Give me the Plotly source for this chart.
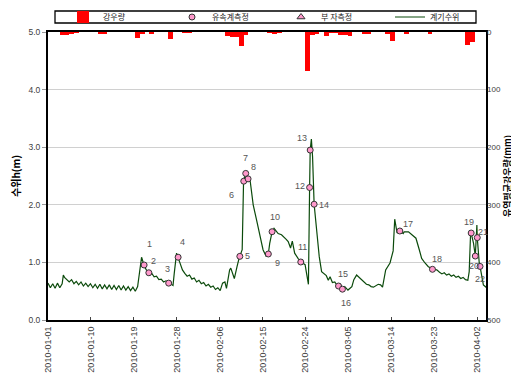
import plotly.graph_objects as go

YEAR = "2010"

# ---- data ----
level_times = [
    "01-01 00","01-01 12","01-02 00","01-02 12","01-03 00","01-03 12","01-04 00","01-04 06","01-04 12",
    "01-05 00","01-05 12","01-06 00","01-06 12","01-07 00","01-07 12","01-08 00","01-08 12","01-09 00",
    "01-09 12","01-10 00","01-10 12","01-11 00","01-11 12","01-12 00","01-12 12","01-13 00","01-13 12",
    "01-14 00","01-14 12","01-15 00","01-15 12","01-16 00","01-16 12","01-17 00","01-17 12","01-18 00",
    "01-18 12","01-19 00","01-19 12","01-20 00","01-20 12","01-20 20","01-21 06","01-21 12","01-22 00",
    "01-22 12","01-23 00","01-23 12","01-24 00","01-24 12","01-25 00","01-25 12","01-26 00","01-26 12",
    "01-27 00","01-27 12","01-27 18","01-28 06","01-28 12","01-29 00","01-29 12","01-30 00","01-30 12",
    "01-31 00","01-31 12","02-01 00","02-01 12","02-02 00","02-02 12","02-03 00","02-03 12","02-04 00",
    "02-04 12","02-05 00","02-05 12","02-06 00","02-06 12","02-07 00","02-07 12","02-07 20","02-08 12",
    "02-08 18","02-09 12","02-10 02","02-10 12","02-11 04","02-11 11","02-11 21","02-12 10","02-12 20",
    "02-13 12","02-14 05","02-14 22","02-15 14","02-16 05","02-16 17","02-17 00","02-17 12","02-17 22",
    "02-18 19","02-19 12","02-19 22","02-20 12","02-20 22","02-21 10","02-21 19","02-22 07","02-23 00",
    "02-23 14","02-24 12","02-25 00","02-25 05","02-25 11","02-25 14","02-25 20","02-26 02","02-26 10",
    "02-27 00","02-27 12","02-28 00","02-28 12","03-01 00","03-01 10","03-01 19","03-02 07","03-02 19",
    "03-03 05","03-03 14","03-04 00","03-04 10","03-04 22","03-05 14","03-06 10","03-06 20","03-07 10",
    "03-08 00","03-08 12","03-09 00","03-09 12","03-10 00","03-10 12","03-11 00","03-11 12","03-12 00",
    "03-12 12","03-12 22","03-13 14","03-14 12","03-15 04","03-15 12","03-16 00","03-16 14","03-17 07",
    "03-17 12","03-18 10","03-19 02","03-20 00","03-20 17","03-21 05","03-21 22","03-22 14","03-23 12",
    "03-24 10","03-25 00","03-25 12","03-26 00","03-26 12","03-27 00","03-27 12","03-28 00","03-28 12",
    "03-29 00","03-29 12","03-30 00","03-30 12","03-31 00","03-31 07","03-31 14","03-31 17","04-01 05",
    "04-01 14","04-01 22","04-02 00","04-02 10","04-02 14","04-03 07","04-04 00",
]
level_values = [
    0.64,0.56,0.63,0.55,0.64,0.56,0.63,0.78,0.74,
    0.69,0.66,0.70,0.63,0.67,0.61,0.66,0.59,0.64,
    0.58,0.63,0.56,0.62,0.55,0.62,0.54,0.61,0.54,
    0.61,0.53,0.60,0.53,0.60,0.52,0.59,0.52,0.58,
    0.51,0.57,0.50,0.58,0.85,1.09,0.98,0.92,0.85,
    0.80,0.81,0.75,0.76,0.70,0.71,0.66,0.68,0.65,
    0.63,0.60,0.80,1.16,1.10,0.98,0.87,0.81,0.76,
    0.78,0.71,0.73,0.66,0.69,0.63,0.65,0.59,0.62,
    0.57,0.59,0.53,0.56,0.51,0.64,0.66,0.55,0.87,
    0.90,0.72,0.93,1.07,1.22,2.41,2.56,2.45,2.43,
    2.00,1.74,1.45,1.22,1.11,1.15,1.33,1.53,1.59,
    1.50,1.48,1.45,1.40,1.36,1.25,1.37,1.16,1.07,
    1.01,0.96,0.75,0.62,2.30,2.95,3.14,2.84,2.01,
    1.56,1.10,0.84,0.80,0.77,0.69,0.75,0.65,0.66,
    0.61,0.59,0.62,0.53,0.58,0.52,0.58,0.70,0.78,
    0.74,0.70,0.67,0.62,0.61,0.58,0.57,0.60,0.62,
    0.61,0.57,0.87,0.99,1.20,1.75,1.51,1.55,1.50,
    1.53,1.53,1.48,1.42,1.22,1.07,0.99,0.93,0.88,
    0.87,0.83,0.80,0.82,0.78,0.80,0.76,0.78,0.74,
    0.76,0.72,0.74,0.70,0.69,0.84,1.51,1.51,1.33,
    1.11,1.65,1.43,0.99,0.93,0.61,0.56,
]

meas_times = ["01-21 09","01-22 09","01-26 14","01-28 14","02-10 16","02-11 12","02-11 22","02-12 10",
              "02-16 17","02-17 12","02-23 14","02-25 11","02-25 14","02-26 10","03-03 14","03-04 10",
              "03-16 14","03-23 12","03-31 17","04-01 14","04-02 00","04-02 14"]
meas_values = [0.955,0.82,0.64,1.09,1.105,2.41,2.545,2.45,
               1.146,1.533,1.007,2.30,2.95,2.01,0.59,0.535,
               1.545,0.88,1.51,1.11,1.43,0.93]
meas_labels = [str(i) for i in range(1, 23)]

rain_dates = ["01-04","01-05","01-06","01-07","01-12","01-13","01-20","01-21","01-23","01-27",
              "01-30","01-31","02-08","02-09","02-10","02-11","02-12","02-17","02-18","02-19",
              "02-25","02-26","02-27","03-01","03-02","03-03","03-04","03-05","03-06","03-09",
              "03-10","03-14","03-15","03-18","03-23","03-31","04-01"]
rain_mm = [5,5,2,1.5,3,3,10,2,2,12,
           1.5,1.5,7,8,8,25,5,1.5,2,1.5,
           68,5,3,7.5,1.5,1.5,5,5,7,2.5,
           2.5,2,15,3,2.5,22,18]

x_tick_start = "2010-01-01"
x_tick_step_days = 9.1
x_range = ["2010-01-01 00:00", "2010-04-03 20:24"]

# label offsets (px) for the measurement numbers
label_dx = [5,5,-1,4,7.5,-12,0,5,9,3.4,1.3,-10,-8.6,9.4,4,3.3,8.3,5,-2.3,-1.3,6,0]
label_dy = [21,12,14,15,0,-13.5,15.6,12,-9,14.7,15.3,1.3,12.3,-1,12.4,-14,7,10,11,-9.7,5.4,-13]

def full(t):
    return f"{YEAR}-{t}:00" if " " in t else f"{YEAR}-{t}"

FONT = "Arial, 'Liberation Sans', 'Noto Sans CJK KR', sans-serif"
KFONT = "'Noto Sans CJK KR', Arial, sans-serif"
GRAY = "#404040"

# the page body adds an 8px offset; figure is sized so it ends at the 519x375 window edge
OFF = 8
W, H = 519 - OFF, 375 - OFF
ML, MR, MT, MB = 48 - OFF, 33, 32 - OFF, 55
PW, PH = W - ML - MR, H - MT - MB

fig = go.Figure()

fig.add_trace(go.Bar(
    x=[full(d) for d in rain_dates], y=rain_mm, yaxis="y2", name="강우량", legendrank=1,
    marker=dict(color="#FF0000", line=dict(width=0)),
))
fig.add_trace(go.Scatter(
    x=[full(t) for t in level_times], y=level_values, mode="lines", name="계기수위", legendrank=4,
    line=dict(color="#0B4A0B", width=1.2),
))
fig.add_trace(go.Scatter(
    x=[full(t) for t in meas_times], y=meas_values, mode="markers", name="유속계측정", legendrank=2,
    marker=dict(symbol="circle", size=6, color="#FF99CC", line=dict(color="#333333", width=1)),
))
fig.add_trace(go.Scatter(
    x=[None], y=[None], mode="markers", name="부 자측정", legendrank=3,
    marker=dict(symbol="triangle-up", size=7, color="#FF99CC", line=dict(color="#333333", width=1)),
))

for t, v, lab, dx, dy in zip(meas_times, meas_values, meas_labels, label_dx, label_dy):
    fig.add_annotation(x=full(t), y=v, text=lab, showarrow=False, xshift=dx, yshift=dy,
                       font=dict(family=FONT, size=9, color="#555555"))

# legend frame (box around the one-row legend), in screen px converted to paper fractions
fig.add_shape(type="rect", xref="paper", yref="paper",
              x0=(55 - 48) / PW, x1=(476 - 48) / PW,
              y0=(320 - 23) / PH, y1=(320 - 11) / PH,
              line=dict(color="black", width=1.3), fillcolor="rgba(0,0,0,0)", layer="above")

fig.update_layout(
    width=W, height=H,
    margin=dict(l=ML, r=MR, t=MT, b=MB, autoexpand=False),
    paper_bgcolor="white", plot_bgcolor="white",
    bargap=0,
    showlegend=True,
    legend=dict(orientation="h", xref="container", yref="container",
                x=(281 - OFF) / W, xanchor="center", y=1 - (17 - OFF) / H, yanchor="middle",
                borderwidth=0, bgcolor="rgba(0,0,0,0)",
                font=dict(family=KFONT, size=8, color="#222222"),
                entrywidth=64, entrywidthmode="pixels", traceorder="normal",
                itemwidth=30, tracegroupgap=0),
    font=dict(family=FONT, size=9, color=GRAY),
    xaxis=dict(type="date", range=x_range, tick0=x_tick_start, dtick=x_tick_step_days * 86400000,
               tickformat="%Y-%m-%d", tickangle=-90, ticks="inside", ticklen=3, tickcolor="#444",
               showline=True, linecolor="black", linewidth=2, mirror=True, showgrid=False,
               ticklabelstandoff=1,
               tickfont=dict(family=FONT, size=9, color=GRAY)),
    yaxis=dict(range=[0, 5], dtick=1, tickformat=".1f", ticks="outside", ticklen=4, tickcolor="#999",
               showline=True, linecolor="black", linewidth=2, mirror=True,
               showgrid=True, gridcolor="#D0D0D0", gridwidth=1, zeroline=False,
               title=dict(text="<b>수위h(m)</b>", font=dict(family=KFONT, size=10, color="black"), standoff=7),
               tickfont=dict(family=FONT, size=8.5, color=GRAY)),
    yaxis2=dict(range=[500, 0], dtick=100, overlaying="y", side="right", showgrid=False, zeroline=False,
                ticks="", showline=False,
                title=dict(text="<b>유역평균강우량(mm)</b>", font=dict(family=KFONT, size=9, color="black"), standoff=2),
                tickfont=dict(family=FONT, size=8, color=GRAY)),
)

fig.write_html("out.html")
